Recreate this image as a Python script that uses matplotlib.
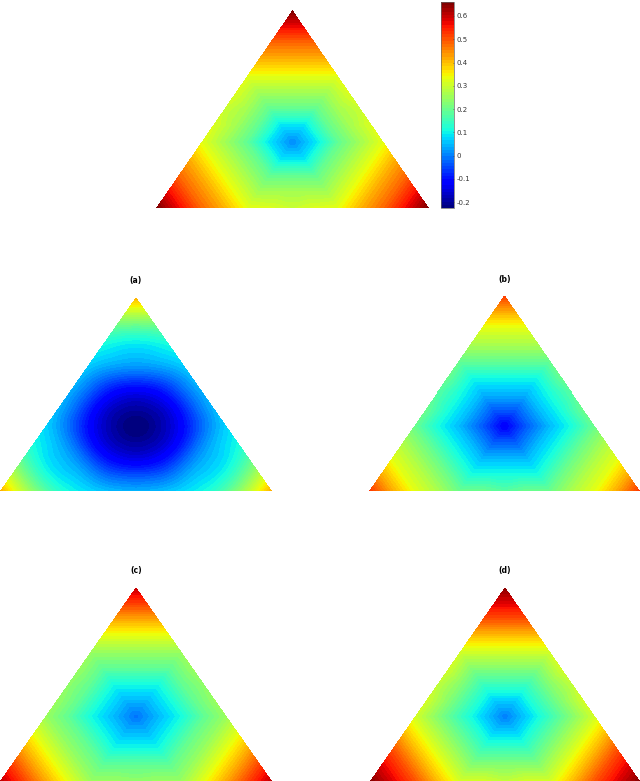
import numpy as np
import matplotlib
matplotlib.use('Agg')
import matplotlib.pyplot as plt
import matplotlib.tri as mtri
from matplotlib.cm import ScalarMappable
from matplotlib.colors import Normalize

W, H = 640, 781
VMIN, VMAX = -0.225, 0.66
N = 12

# lattice nodes (i >= j >= k, i + j + k = 12), other nodes follow by symmetry
parts = [(12, 0, 0), (11, 1, 0), (10, 2, 0), (10, 1, 1), (9, 3, 0), (9, 2, 1),
         (8, 4, 0), (8, 3, 1), (8, 2, 2), (7, 5, 0), (7, 4, 1), (7, 3, 2),
         (6, 6, 0), (6, 5, 1), (6, 4, 2), (6, 3, 3), (5, 5, 2), (5, 4, 3), (4, 4, 4)]

vals_top = [0.66, 0.57, 0.48, 0.48, 0.41, 0.41,
            0.33, 0.33, 0.33, 0.32, 0.26, 0.26,
            0.30, 0.26, 0.19, 0.19, 0.19, 0.085, 0.01]
vals_a = [0.42, 0.29, 0.18, 0.17, 0.11, 0.09,
          0.075, 0.05, 0.04, 0.05, -0.01, -0.04,
          0.04, -0.04, -0.115, -0.14, -0.14, -0.19, -0.225]
vals_b = [0.53, 0.42, 0.33, 0.33, 0.27, 0.27,
          0.20, 0.20, 0.20, 0.20, 0.115, 0.115,
          0.18, 0.115, 0.05, 0.05, 0.05, -0.03, -0.12]
vals_c = [0.61, 0.52, 0.42, 0.42, 0.33, 0.33,
          0.25, 0.25, 0.25, 0.25, 0.19, 0.19,
          0.24, 0.19, 0.11, 0.11, 0.11, 0.05, -0.01]
vals_d = [0.65, 0.58, 0.50, 0.50, 0.40, 0.40,
          0.31, 0.31, 0.31, 0.31, 0.23, 0.23,
          0.29, 0.23, 0.15, 0.15, 0.15, 0.07, 0.00]

panel_titles = ['', '(a)', '(b)', '(c)', '(d)']
panel_vals = [vals_top, vals_a, vals_b, vals_c, vals_d]
# left, right, top, bottom in pixels
panel_boxes = [(156, 429, 10, 208), (0, 272, 297, 491), (369, 640, 296, 491),
               (0, 272, 587, 781), (370, 640, 587, 781)]
tick_vals = [-0.2, -0.1, 0, 0.1, 0.2, 0.3, 0.4, 0.5, 0.6]
tick_labels = ['-0.2', '-0.1', '0', '0.1', '0.2', '0.3', '0.4', '0.5', '0.6']

cmap = plt.get_cmap('jet', 64)
norm = Normalize(VMIN, VMAX)

# triangular lattice in the unit box
nodes = [(N - j - k, j, k) for k in range(N + 1) for j in range(N + 1 - k)]
xs = np.array([(j + k / 2) / N for i, j, k in nodes])
ys = np.array([k / N for i, j, k in nodes])
index = {n: p for p, n in enumerate(nodes)}
tris = []
for k in range(N):
    for j in range(N - k):
        i = N - j - k
        tris.append([index[(i, j, k)], index[(i - 1, j + 1, k)], index[(i - 1, j, k + 1)]])
        if j < N - k - 1:
            tris.append([index[(i - 1, j + 1, k)], index[(i - 2, j + 1, k + 1)], index[(i - 1, j, k + 1)]])
triang = mtri.Triangulation(xs, ys, tris)


def ax_px(fig, left, right, top, bottom):
    return fig.add_axes([left / W, 1 - bottom / H, (right - left) / W, (bottom - top) / H])


fig = plt.figure(figsize=(W / 100, H / 100), dpi=100)

for title, vals, box in zip(panel_titles, panel_vals, panel_boxes):
    left, right, top, bottom = box
    ax = ax_px(fig, left, right, top, bottom)
    lookup = dict(zip(parts, vals))
    z = np.array([lookup[tuple(sorted(p, reverse=True))] for p in nodes])
    # (a) is smooth, the others keep the hexagonal creases of the mesh
    if title == '(a)':
        interp = mtri.CubicTriInterpolator(triang, z, kind='min_E')
    else:
        interp = mtri.LinearTriInterpolator(triang, z)
    nx, ny = right - left, bottom - top
    gx, gy = np.meshgrid((np.arange(nx) + 0.5) / nx, (np.arange(ny) + 0.5) / ny)
    ax.imshow(interp(gx, gy), origin='lower', extent=[0, 1, 0, 1], aspect='auto',
              cmap=cmap, norm=norm, interpolation='nearest')
    ax.set_xlim(0, 1)
    ax.set_ylim(0, 1)
    ax.axis('off')
    if title:
        ax.set_title(title, fontsize=5.5, fontweight='bold', pad=10)

cax = ax_px(fig, 441, 454, 2, 208)
cb = fig.colorbar(ScalarMappable(norm=norm, cmap=cmap), cax=cax)
cb.set_ticks(tick_vals)
cb.set_ticklabels(tick_labels)
cb.ax.tick_params(labelsize=5, length=1, width=0.4, pad=2, direction='in', colors='#333333')
cb.outline.set_linewidth(0.5)
cb.outline.set_edgecolor('#666666')

fig.savefig('out.png', dpi=100)
plt.close(fig)
